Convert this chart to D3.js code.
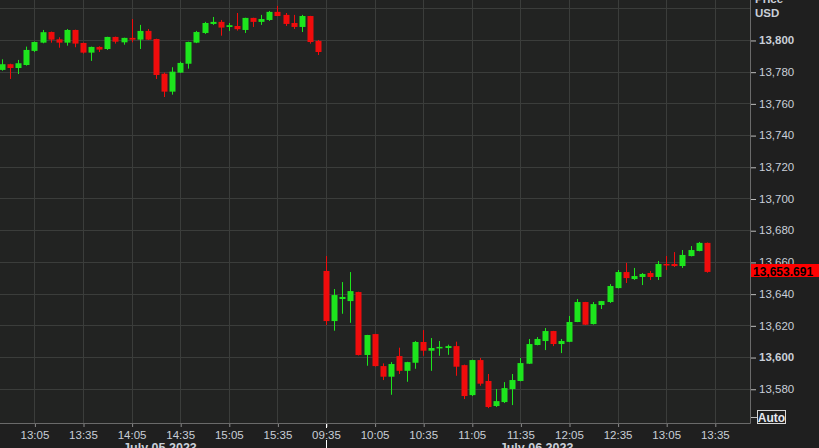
<!DOCTYPE html>
<html>
<head>
<meta charset="utf-8">
<script src="https://cdn.jsdelivr.net/npm/d3@7"></script>
<style>
  html, body { margin: 0; padding: 0; background: #1f1f1f; overflow: hidden; }
  svg { display: block; }
</style>
</head>
<body>
<svg id="chart" width="819" height="448"></svg>
<script>
// ---------- DATA ----------
const day1Times = ["12:45","12:50","12:55","13:00","13:05","13:10","13:15","13:20","13:25","13:30","13:35","13:40","13:45","13:50","13:55","14:00","14:05","14:10","14:15","14:20","14:25","14:30","14:35","14:40","14:45","14:50","14:55","15:00","15:05","15:10","15:15","15:20","15:25","15:30","15:35","15:40","15:45","15:50","15:55","16:00"];
const day2Times = ["09:35","09:40","09:45","09:50","09:55","10:00","10:05","10:10","10:15","10:20","10:25","10:30","10:35","10:40","10:45","10:50","10:55","11:00","11:05","11:10","11:15","11:20","11:25","11:30","11:35","11:40","11:45","11:50","11:55","12:00","12:05","12:10","12:15","12:20","12:25","12:30","12:35","12:40","12:45","12:50","12:55","13:00","13:05","13:10","13:15","13:20","13:25","13:30","13:35","13:40","13:45","13:50","13:55"];
const dayNames = ["2023-07-05", "2023-07-06"];
const dateLabels = ["July 05 2023", "July 06 2023"];

const open = [13781.1,13784.7,13782.3,13784.2,13793.1,13798.3,13805.0,13800.4,13798.3,13806.3,
  13798.1,13792.0,13795.6,13794.3,13801.9,13798.5,13801.3,13800.2,13805.7,13800.6,
  13778.7,13767.4,13779.4,13785.0,13798.3,13804.4,13810.1,13811.4,13808.2,13808.8,
  13806.3,13813.9,13811.4,13812.6,13817.7,13815.8,13810.7,13808.2,13815.1,13799.4,
  13654.3,13622.7,13636.6,13635.3,13641.0,13601.3,13614.5,13594.3,13587.6,13600.6,
  13591.3,13596.4,13609.5,13604.0,13605.5,13605.7,13606.9,13594.9,13576.0,13598.1,
  13584.9,13569.1,13571.6,13579.8,13584.9,13595.8,13607.6,13610.1,13616.4,13608.2,
  13609.6,13622.1,13634.7,13620.8,13632.8,13634.7,13643.5,13653.6,13649.2,13650.5,
  13653.0,13650.5,13658.7,13658.7,13657.4,13663.7,13666.9,13672.0];
const high = [13787.8,13785.0,13787.4,13795.8,13799.0,13806.3,13805.3,13801.7,13806.9,13806.5,
  13798.3,13795.8,13796.0,13802.0,13802.1,13801.4,13813.2,13809.5,13806.9,13800.8,
  13779.4,13782.8,13786.3,13798.9,13805.7,13811.4,13814.5,13812.6,13810.7,13817.0,
  13814.0,13814.0,13815.8,13818.3,13821.5,13817.0,13815.8,13815.8,13815.2,13800.0,
  13663.7,13642.9,13647.3,13653.6,13641.2,13614.0,13614.6,13596.0,13596.8,13605.9,
  13597.0,13610.1,13617.0,13612.0,13610.1,13607.8,13609.7,13595.2,13598.3,13599.4,
  13589.3,13579.8,13584.2,13589.3,13599.4,13611.4,13612.6,13618.3,13616.5,13611.4,
  13625.9,13636.6,13634.8,13634.7,13635.4,13646.0,13654.9,13659.4,13656.2,13653.0,
  13654.3,13660.6,13663.7,13666.2,13667.5,13670.0,13672.6,13672.2];
const low = [13780.6,13775.4,13778.5,13783.8,13792.4,13797.9,13798.3,13795.1,13796.4,13795.4,
  13791.4,13786.8,13792.4,13793.7,13797.7,13797.0,13798.5,13794.3,13800.0,13775.4,
  13764.0,13765.5,13779.2,13781.9,13798.0,13803.8,13809.5,13802.7,13805.7,13805.9,
  13804.4,13808.2,13809.5,13812.0,13815.0,13808.8,13806.9,13805.0,13797.7,13790.5,
  13620.2,13616.6,13627.3,13621.6,13601.0,13594.5,13594.0,13585.5,13576.2,13589.3,
  13584.4,13592.6,13600.8,13591.3,13600.8,13601.4,13588.2,13573.5,13575.4,13581.9,
  13567.8,13568.5,13571.0,13569.7,13584.7,13595.6,13607.4,13604.4,13606.9,13602.5,
  13609.4,13622.0,13620.2,13620.5,13630.3,13634.1,13643.3,13646.7,13648.6,13645.4,
  13648.6,13648.6,13654.9,13656.8,13656.2,13663.5,13666.7,13653.2];
const close = [13784.7,13782.3,13785.3,13793.7,13798.7,13804.9,13800.2,13798.3,13806.3,13797.7,
  13792.0,13795.6,13793.9,13801.9,13798.9,13801.3,13800.2,13805.7,13800.2,13777.9,
  13767.4,13780.0,13785.5,13798.7,13805.0,13810.7,13811.4,13807.8,13809.3,13806.8,
  13813.9,13811.4,13813.2,13817.7,13815.1,13810.1,13808.2,13815.1,13798.7,13792.4,
  13622.7,13639.1,13637.9,13641.6,13601.3,13613.9,13594.3,13587.6,13595.6,13591.3,
  13596.8,13609.5,13604.0,13605.7,13606.4,13606.9,13593.9,13575.4,13598.1,13583.2,
  13568.5,13572.2,13580.4,13585.5,13596.2,13608.2,13611.4,13616.4,13608.2,13610.1,
  13622.1,13634.7,13620.4,13633.4,13635.3,13644.8,13653.6,13649.8,13651.1,13652.4,
  13650.5,13658.7,13658.0,13657.4,13664.4,13667.5,13672.0,13653.691];

const xTickLabels = ["13:05","13:35","14:05","14:35","15:05","15:35","09:35","10:05","10:35","11:05","11:35","12:05","12:35","13:05","13:35"];
const xTickDays   = [0,0,0,0,0,0,1,1,1,1,1,1,1,1,1];
const yTickValues = [13580,13600,13620,13640,13660,13680,13700,13720,13740,13760,13780,13800];
const yGridValues = [13580,13600,13620,13640,13660,13680,13700,13720,13740,13760,13780,13800,13820];
const yBoldValues = [13600,13800];
const axisTitle = ["Price", "USD"];
const lastPriceText = "13,653.691";

// ---------- BUILD ----------
const slotKeys = day1Times.map(t => dayNames[0] + " " + t).concat(day2Times.map(t => dayNames[1] + " " + t));
const candles = open.map((o, i) => ({ key: slotKeys[i], o, h: high[i], l: low[i], c: close[i] }));

const W = 819, H = 448;
const plotR = 750, plotB = 423;
const svg = d3.select("#chart");

const x = d3.scalePoint().domain(slotKeys).range([2, 2 + 8.1 * (slotKeys.length - 1)]);
const y = d3.scaleLinear().domain([13558.4, 13825.2]).range([plotB, 0]);

const FONT = "'Liberation Sans', Arial, sans-serif";
const TXT = "#c9cfd8";

// plot background
svg.append("rect").attr("x", 0).attr("y", 0).attr("width", plotR).attr("height", plotB).attr("fill", "#222322");

// grid
const grid = svg.append("g");
grid.selectAll("line.h").data(yGridValues).join("line")
  .attr("x1", 0).attr("x2", plotR)
  .attr("y1", d => Math.round(y(d)) + 0.5).attr("y2", d => Math.round(y(d)) + 0.5)
  .attr("stroke", "#3b3d3b").attr("stroke-width", 1);

const tickKeys = xTickLabels.map((t, i) => dayNames[xTickDays[i]] + " " + t);
grid.selectAll("line.v").data(tickKeys).join("line")
  .attr("y1", 0).attr("y2", plotB)
  .attr("x1", d => Math.round(x(d)) + 0.5).attr("x2", d => Math.round(x(d)) + 0.5)
  .attr("stroke", "#3b3d3b").attr("stroke-width", 1);

// candles
const GREEN = "#1de51d", RED = "#f00c0c";
const cg = svg.append("g");
const bw = 6;
const cs = cg.selectAll("g").data(candles).join("g");
cs.append("line")
  .attr("x1", d => Math.round(x(d.key)) + 0.5).attr("x2", d => Math.round(x(d.key)) + 0.5)
  .attr("y1", d => y(d.h)).attr("y2", d => y(d.l))
  .attr("stroke", d => d.c >= d.o ? GREEN : RED).attr("stroke-width", 1);
cs.append("rect")
  .attr("x", d => Math.round(x(d.key)) - bw / 2 + 0.5)
  .attr("width", bw)
  .attr("y", d => y(Math.max(d.o, d.c)))
  .attr("height", d => Math.max(1.5, Math.abs(y(d.o) - y(d.c))))
  .attr("fill", d => d.c >= d.o ? GREEN : RED);

// axes lines
svg.append("line").attr("x1", 0).attr("x2", plotR + 0.5).attr("y1", plotB + 0.5).attr("y2", plotB + 0.5)
  .attr("stroke", "#6a6a6a");
svg.append("line").attr("x1", plotR + 0.5).attr("x2", plotR + 0.5).attr("y1", 0).attr("y2", plotB + 0.5)
  .attr("stroke", "#6a6a6a");

// x axis
const xAxis = d3.axisBottom(x).tickValues(tickKeys)
  .tickFormat((d, i) => xTickLabels[i]).tickSize(3).tickPadding(4);
const xg = svg.append("g").attr("transform", `translate(0,${plotB + 1})`).call(xAxis);
xg.select(".domain").remove();
xg.selectAll(".tick line").attr("stroke", "#8a8a8a").attr("transform", "translate(0.5,0)");
xg.selectAll(".tick text").attr("fill", TXT).attr("font-family", FONT).attr("font-size", 11.5).attr("dy", "0.72em");

// day separator tick
const sepX = Math.round(x(dayNames[1] + " " + day2Times[0])) + 0.5;
svg.append("line").attr("x1", sepX).attr("x2", sepX).attr("y1", plotB + 1).attr("y2", plotB + 5).attr("stroke", "#ffffff");
svg.append("line").attr("x1", sepX).attr("x2", sepX).attr("y1", 440).attr("y2", H).attr("stroke", "#ffffff");

// date labels
const dayRanges = [[slotKeys[0], slotKeys[day1Times.length - 1]], [slotKeys[day1Times.length], slotKeys[slotKeys.length - 1]]];
svg.selectAll("text.date").data(dateLabels).join("text")
  .attr("x", (d, i) => (x(dayRanges[i][0]) + x(dayRanges[i][1])) / 2)
  .attr("y", 451.5)
  .attr("text-anchor", "middle")
  .attr("font-family", FONT).attr("font-size", 12.5).attr("font-weight", "bold")
  .attr("fill", TXT).text(d => d);

// y axis
const yAxis = d3.axisRight(y).tickValues(yTickValues).tickFormat(d3.format(",")).tickSize(5).tickPadding(3);
const yg = svg.append("g").attr("transform", `translate(${plotR + 1},0)`).call(yAxis);
yg.select(".domain").remove();
yg.selectAll(".tick line").attr("stroke", "#bdbdbd").attr("transform", "translate(0,0.5)");
yg.selectAll(".tick text").attr("fill", TXT).attr("font-family", FONT).attr("font-size", 11.5)
  .attr("font-weight", d => yBoldValues.includes(d) ? "bold" : "normal");

// axis title
svg.selectAll("text.title").data(axisTitle).join("text")
  .attr("x", 755).attr("y", (d, i) => 3 + i * 13.5)
  .attr("font-family", FONT).attr("font-size", 11.5).attr("font-weight", "bold")
  .attr("fill", TXT).text(d => d);

// last price label
const lastY = y(close[close.length - 1]);
svg.append("rect").attr("x", 751).attr("y", Math.round(lastY) - 8).attr("width", 68).attr("height", 13).attr("fill", "#ff0000");
svg.append("text").attr("x", 753).attr("y", Math.round(lastY) + 3.5)
  .attr("font-family", FONT).attr("font-size", 12).attr("font-weight", "bold")
  .attr("fill", "#000000").text(lastPriceText);

// Auto button
svg.append("line").attr("x1", plotR + 1).attr("x2", 757).attr("y1", 417.5).attr("y2", 417.5).attr("stroke", "#bdbdbd");
svg.append("rect").attr("x", 757.5).attr("y", 410.5).attr("width", 28).attr("height", 13)
  .attr("fill", "none").attr("stroke", "#d8d8d8").attr("stroke-width", 1);
svg.append("text").attr("x", 771.5).attr("y", 421.5).attr("text-anchor", "middle")
  .attr("font-family", FONT).attr("font-size", 12).attr("font-weight", "bold")
  .attr("fill", "#e4e8f0").text("Auto");
</script>
</body>
</html>
